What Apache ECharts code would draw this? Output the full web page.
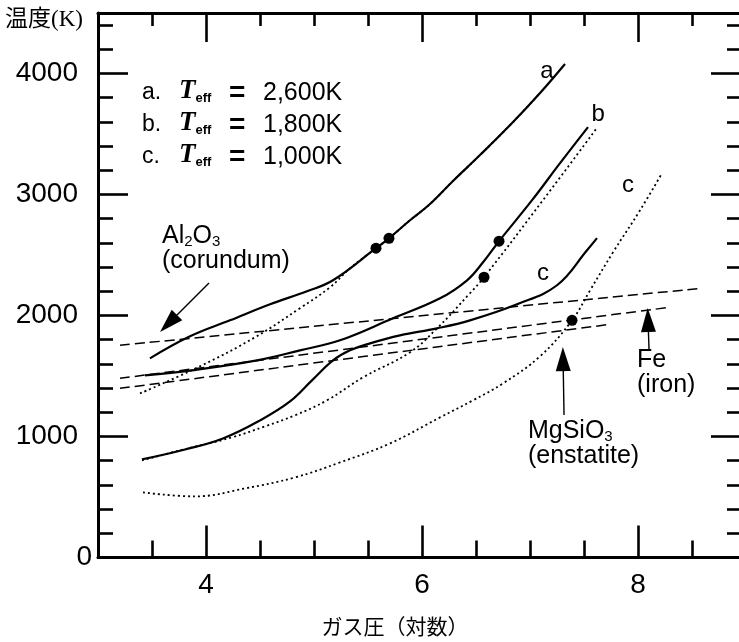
<!DOCTYPE html>
<html>
<head>
<meta charset="utf-8">
<script src="https://cdn.jsdelivr.net/npm/echarts@6/dist/echarts.min.js"></script>
<style>
  html, body { margin: 0; padding: 0; background: #fff; }
  #chart { width: 739px; height: 642px; }
</style>
</head>
<body>
<div id="chart"></div>
<script>
// axis ranges and ticks
const X_MIN = 3, X_MAX = 8.935
const Y_MIN = 0, Y_MAX = 4500
const xMajor = [4, 6, 8]
const xMinor = [3.5, 4.5, 5, 5.5, 6.5, 7, 7.5, 8.5]
const yMajor = [0, 1000, 2000, 3000, 4000]
const yLabels = [1000, 2000, 3000, 4000]
const yZeroLabel = [0]
const yMinor = [200, 400, 600, 800, 1200, 1400, 1600, 1800, 2200, 2400, 2600, 2800, 3200, 3400, 3600, 3800, 4200, 4400]

// model temperature profiles (log gas pressure, temperature K)
const aSolid = [[3.481,1646],[3.852,1828],[4.222,1960],[4.593,2093],[4.935,2200],[5.176,2291],[5.574,2556],[5.694,2638],[5.889,2787],[6.074,2921],[6.287,3112],[6.537,3326],[6.843,3599],[7.093,3839],[7.324,4079]]
const aDotted = [[3.389,1356],[3.944,1580],[4.454,1820],[4.870,2060],[5.148,2233],[5.333,2390],[5.574,2556],[5.694,2638],[5.889,2787],[6.074,2921],[6.287,3112],[6.537,3326],[6.843,3599],[7.093,3839]]
const bSolid = [[3.435,1505],[3.870,1547],[4.472,1629],[4.870,1712],[5.241,1795],[5.731,1977],[6.167,2142],[6.417,2291],[6.565,2440],[6.713,2614],[7.019,2953],[7.278,3259],[7.537,3557]]
const bDotted = [[3.407,802],[3.759,885],[4.241,993],[4.546,1084],[4.824,1175],[5.120,1299],[5.454,1489],[5.889,1696],[6.139,1894],[6.444,2184],[6.574,2316],[7.120,2953],[7.611,3540]]
const cSolid = [[3.407,811],[3.806,893],[4.157,984],[4.500,1133],[4.778,1290],[4.981,1464],[5.176,1629],[5.333,1712],[5.519,1770],[5.796,1836],[6.139,1894],[6.444,1960],[6.880,2093],[7.250,2250],[7.528,2539],[7.620,2639]]
const cDotted = [[3.417,538],[3.898,505],[4.361,571],[4.824,662],[5.241,786],[5.704,943],[6.167,1158],[6.472,1299],[6.750,1439],[7.093,1663],[7.389,1960],[7.556,2208],[7.769,2523],[8.019,2870],[8.222,3176]]

// condensation lines
const al2o3Line = [[3.204,1754],[8.593,2225]]
const feLine = [[3.204,1481],[8.296,2068]]
const mgsio3Line = [[3.204,1398],[7.741,1927]]

// filled circles
const dots = [[5.574,2556],[5.694,2638],[6.713,2614],[6.574,2316],[7.389,1960]]

// arrows: [from, head centre]
const arrows = [
  [[4.028,2269],[3.653,1934]],
  [[7.315,1178],[7.306,1640]],
  [[8.102,1715],[8.093,1963]]
]

// curve labels and notes (anchor in data units)
const curveLabels = [
  { text: 'a', at: [7.157,4021] },
  { text: 'b', at: [7.630,3665] },
  { text: 'c', at: [7.120,2351] },
  { text: 'c', at: [7.907,3079] }
]
const notes = [
  { name: 'Al{s|2}O{s|3}', sub: '(corundum)', at: [3.593,2640] },
  { name: 'MgSiO{s|3}', sub: '(enstatite)', at: [6.981,1029] },
  { name: 'Fe', sub: '(iron)', at: [7.991,1616] }
]
const legendRows = [
  { key: 'a.', value: '2,600K' },
  { key: 'b.', value: '1,800K' },
  { key: 'c.', value: '1,000K' }
]

const SANS = '"Liberation Sans", Arial, Helvetica, sans-serif'
const SERIF = '"Liberation Serif", "Times New Roman", serif'
const JP = '"Liberation Serif", "Noto Sans CJK JP", serif'
const BLACK = '#000'

const chart = echarts.init(document.getElementById('chart'))

const tickStyle = { color: BLACK, width: 2.6 }
const lineAxis = (pos, len, ticks, withLine, label) => ({
  type: 'value',
  position: pos,
  min: pos === 'left' || pos === 'right' ? Y_MIN : X_MIN,
  max: pos === 'left' || pos === 'right' ? Y_MAX : X_MAX,
  splitLine: { show: false },
  axisLine: { show: withLine, onZero: false, lineStyle: { color: BLACK, width: 3 } },
  axisTick: { show: len > 0, inside: true, length: len, customValues: ticks, lineStyle: tickStyle },
  axisLabel: label ? label : { show: false }
})

const tickLabel = (values, margin) => ({
  customValues: values, fontSize: 28, margin: margin, color: BLACK, fontFamily: SANS,
  formatter: v => String(v)
})

const lineSeries = (data, dashed, width) => ({
  type: 'line',
  data: data,
  smooth: 0.4,
  symbol: 'none',
  silent: true,
  xAxisIndex: 0,
  yAxisIndex: 0,
  lineStyle: { color: BLACK, width: width, type: dashed }
})

const option = {
  animation: false,
  grid: { left: 98, right: 0, top: 13, bottom: 84.5 },
  xAxis: [
    lineAxis('bottom', 32, xMajor, true, tickLabel(xMajor, 14)),
    lineAxis('bottom', 17, xMinor, false),
    lineAxis('top', 29, xMajor, true),
    lineAxis('top', 13, xMinor, false)
  ],
  yAxis: [
    lineAxis('left', 30, yMajor, true, tickLabel(yLabels, 20)),
    lineAxis('left', 15, yMinor, false),
    lineAxis('right', 28, yMajor, false),
    lineAxis('right', 12, yMinor, false),
    lineAxis('left', 0, yZeroLabel, false, tickLabel(yZeroLabel, 6))
  ],
  series: [
    lineSeries(aSolid, 'solid', 2.2),
    lineSeries(aDotted, [2, 3], 1.8),
    lineSeries(bSolid, 'solid', 2.2),
    lineSeries(bDotted, [2, 3], 1.8),
    lineSeries(cSolid, 'solid', 2.2),
    lineSeries(cDotted, [2, 3], 1.8),
    lineSeries(al2o3Line, [10, 5], 1.5),
    lineSeries(feLine, [10, 5], 1.5),
    Object.assign(lineSeries(mgsio3Line, [10, 5], 1.5), {
      markLine: {
        silent: true,
        animation: false,
        symbol: ['none', 'triangle'],
        symbolSize: 20,
        label: { show: false },
        lineStyle: { color: BLACK, width: 1.4, type: 'solid', opacity: 1 },
        emphasis: { disabled: true },
        data: arrows.map(a => [
          { coord: a[0], symbol: 'none', symbolSize: 1 },
          { coord: a[1], symbol: 'triangle', symbolSize: [15, 24] }
        ])
      }
    }),
    {
      type: 'scatter',
      data: dots,
      symbol: 'circle',
      symbolSize: 11,
      silent: true,
      itemStyle: { color: BLACK, opacity: 1 }
    }
  ]
}

chart.setOption(option)

const px = p => chart.convertToPixel({ xAxisIndex: 0, yAxisIndex: 0 }, p)
const graphics = []

// y axis name and x axis name
graphics.push({
  type: 'text', left: 5, top: 8,
  style: { text: '温度(K)', font: `23px ${JP}`, fill: BLACK }
})
graphics.push({
  type: 'text', x: 395, y: 628,
  style: { text: 'ガス圧（対数）', font: `21px ${JP}`, fill: BLACK, align: 'center', verticalAlign: 'middle' }
})

// legend block
legendRows.forEach((row, i) => {
  const y = 93 + i * 32
  graphics.push({ type: 'text', x: 142, y, style: { text: row.key, font: `23px ${SANS}`, fill: BLACK, verticalAlign: 'middle' } })
  graphics.push({
    type: 'text', x: 179, y: y - 2,
    style: {
      text: '{t|T}{e|eff}', fill: BLACK, verticalAlign: 'middle',
      rich: {
        t: { fontFamily: SERIF, fontSize: 27, fontStyle: 'italic', fontWeight: 'bold', lineHeight: 28 },
        e: { fontFamily: SANS, fontSize: 13, fontWeight: 'bold', lineHeight: 13, verticalAlign: 'bottom' }
      }
    }
  })
  graphics.push({ type: 'text', x: 229, y, style: { text: '=', font: `bold 28px ${SANS}`, fill: BLACK, verticalAlign: 'middle' } })
  graphics.push({ type: 'text', x: 263, y, style: { text: row.value, font: `25px ${SANS}`, fill: BLACK, verticalAlign: 'middle' } })
})

curveLabels.forEach(l => {
  const p = px(l.at)
  graphics.push({
    type: 'text', x: p[0], y: p[1],
    style: { text: l.text, font: `24px ${SANS}`, fill: BLACK, align: 'center', verticalAlign: 'middle' }
  })
})

notes.forEach(n => {
  const p = px(n.at)
  graphics.push({
    type: 'text', x: p[0], y: p[1] - 14,
    style: {
      text: '{m|' + n.name.replace(/\{s\|(\d)\}/g, '}{s|$1}{m|') + '}\n{m|' + n.sub + '}',
      fill: BLACK,
      rich: {
        m: { fontFamily: SANS, fontSize: 25, lineHeight: 25 },
        s: { fontFamily: SANS, fontSize: 15, lineHeight: 15, verticalAlign: 'bottom' }
      }
    }
  })
})

chart.setOption({ graphic: graphics })
window.addEventListener('resize', () => chart.resize())
</script>
</body>
</html>
